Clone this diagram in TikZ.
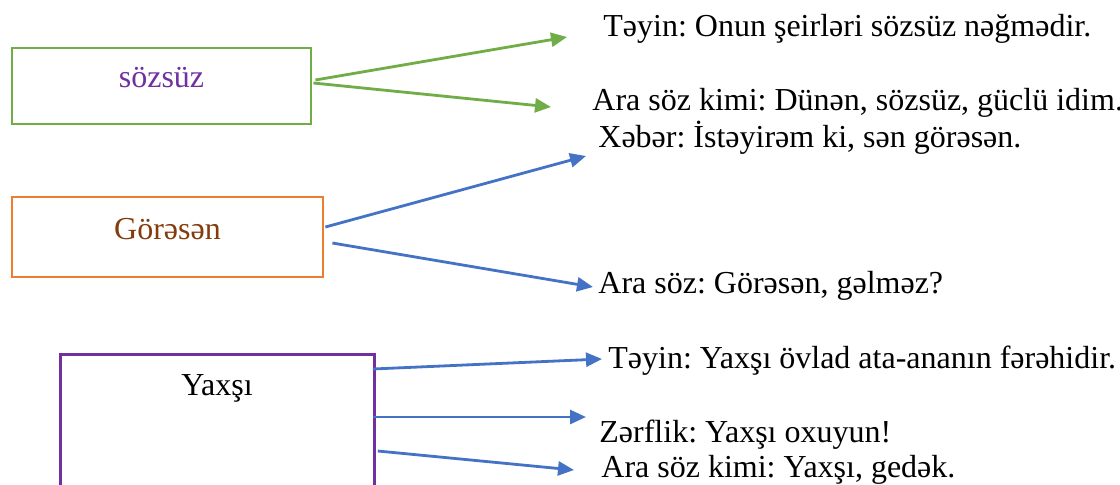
\documentclass[tikz,border=0pt]{standalone}
\usepackage{fontspec}
\setmainfont{Liberation Serif}
\usetikzlibrary{arrows.meta}
\definecolor{lgreen}{HTML}{70AD47}
\definecolor{lblue}{HTML}{4472C4}
\definecolor{lorange}{HTML}{ED7D31}
\definecolor{lpurple}{HTML}{7030A0}
\definecolor{lbrown}{HTML}{843C0C}
\tikzset{
  wordbox/.style={draw, line width=1.4pt, fill=none, inner sep=0pt},
  txt/.style={inner sep=0pt, anchor=base west, font=\fontsize{16pt}{19pt}\selectfont\frenchspacing},
  word/.style={inner sep=0pt, anchor=base, font=\fontsize{16pt}{19pt}\selectfont},
  link/.style={line width=1.4pt, -{Triangle[length=8pt,width=7pt]}},
}
\begin{document}
\begin{tikzpicture}[x=0.5pt,y=-0.5pt]
\useasboundingbox (0,0) rectangle (1120,484);
\clip (0,0) rectangle (1120,484);

% word boxes
\node[wordbox, draw=lgreen, minimum width=149.5pt, minimum height=38pt] (soz) at (161.5,86) {};
\node[word, text=lpurple] (sozw) at (161.5,87) {sözsüz};

\node[wordbox, draw=lorange, minimum width=155.5pt, minimum height=40pt] (gor) at (167.5,237) {};
\node[word, text=lbrown] (gorw) at (167.5,239) {Görəsən};

\node[wordbox, draw=lpurple, minimum width=157pt, minimum height=90pt, anchor=north west] (yax) at (59,353) {};
\node[word] (yaxw) at (217,395) {Yaxşı};

% example sentences
\node[txt] (s1) at (603,36)  {Təyin: Onun şeirləri sözsüz nəğmədir.};
\node[txt] (s2) at (592,110) {Ara söz kimi: Dünən, sözsüz, güclü idim.};
\node[txt] (s3) at (598,147) {Xəbər: İstəyirəm ki, sən görəsən.};
\node[txt] (s4) at (598,293) {Ara söz: Görəsən, gəlməz?};
\node[txt] (s5) at (608,368) {Təyin: Yaxşı övlad ata-ananın fərəhidir.};
\node[txt] (s6) at (599,442) {Zərflik: Yaxşı oxuyun!};
\node[txt] (s7) at (601,477) {Ara söz kimi: Yaxşı, gedək.};

% arrow tips
\coordinate (t1) at (567,37);
\coordinate (t2) at (551,107);
\coordinate (t3) at (586,156);
\coordinate (t4) at (593,287);
\coordinate (t5) at (602,359);
\coordinate (t6) at (586,417);
\coordinate (t7) at (574,470);

% connectors
\draw[link, lgreen] ([shift={(3,-6)}]soz.east) -- (t1);
\draw[link, lgreen] ([shift={(1,-3)}]soz.east) -- (t2);
\draw[link, lblue] ([shift={(1,-10)}]gor.east) -- (t3);
\draw[link, lblue] ([shift={(8,6)}]gor.east) -- (t4);
\draw[link, lblue] ([shift={(-3,16)}]yax.north east) -- (t5);
\draw[link, lblue] ([shift={(-3,64)}]yax.north east) -- (t6);
\draw[link, lblue] ([shift={(2,98)}]yax.north east) -- (t7);
\end{tikzpicture}
\end{document}
